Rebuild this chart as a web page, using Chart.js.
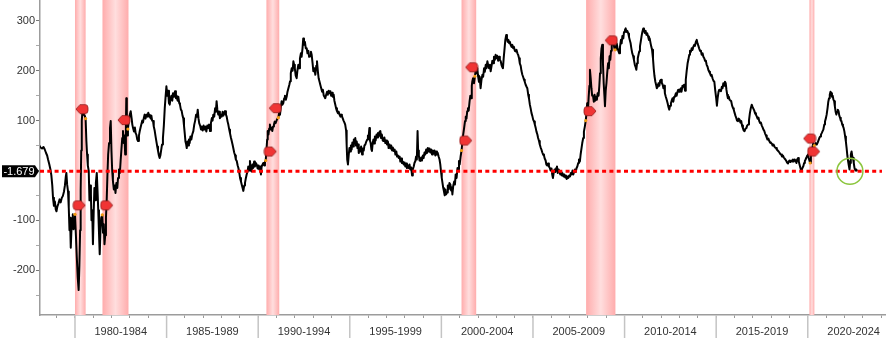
<!DOCTYPE html>
<html>
<head>
<meta charset="utf-8">
<script src="https://cdn.jsdelivr.net/npm/chart.js@4"></script>
<style>
  html, body { margin: 0; padding: 0; background: #fff; }
  canvas { display: block; }
</style>
</head>
<body>
<canvas id="chart" width="886" height="338"></canvas>
<script>
Chart.defaults.font.family = '"Liberation Sans", Arial, sans-serif';
Chart.defaults.font.size = 11;
Chart.defaults.color = '#333';

// last value, drawn as the dotted level line and the black tag
const refLevel = -1.679;
const xMin = 1978.09, xMax = 2024.27;
const yMin = -290, yMax = 342;

// recessions (decimal years)
const recessionStart = [1980.0, 1981.5, 1990.45, 2001.1, 2007.9, 2020.09];
const recessionEnd   = [1980.58, 1982.92, 1991.15, 2001.9, 2009.5, 2020.36];

// red flags and the points they mark
const markerDates  = [1980.38, 1980.23, 1981.73, 1982.67, 1990.66, 1990.93, 2001.33, 2001.65, 2008.11, 2009.27, 2020.10, 2020.32];
const markerValues = [123, -70, -70, 101, 38, 125, 60, 207, 119, 261, 64, 38];
const markerSide   = ['L', 'R', 'R', 'L', 'R', 'L', 'R', 'L', 'R', 'L', 'L', 'R'];
const anchorDates  = [1980.58, 1980.0, 1981.49, 1982.89, 1990.41, 1991.1, 2001.1, 2001.83, 2007.88, 2009.48, 2020.13, 2020.36];
const anchorValues = [104, -88, -89, 83, 20, 106, 40, 189, 100, 242, 15, 50];

const circleDate = 2022.3;

// spread, [decimal year, bp]
const spread1978 = [
  [1977.98, 48], [1978.05, 50], [1978.12, 46], [1978.2, 44], [1978.28, 47], [1978.35, 42], [1978.42, 35], [1978.48, 30],
  [1978.53, 22], [1978.6, 12], [1978.66, 2], [1978.71, -10], [1978.76, -30], [1978.8, -55], [1978.85, -71], [1978.9, -62],
  [1978.95, -78], [1978.99, -82], [1979.04, -72], [1979.1, -66], [1979.16, -58], [1979.22, -64], [1979.28, -55], [1979.34, -51],
  [1979.4, -42], [1979.45, -30], [1979.5, -12], [1979.53, -5], [1979.57, -28], [1979.62, -42], [1979.66, -75], [1979.7, -120],
  [1979.73, -95], [1979.77, -155], [1979.8, -125], [1979.84, -100], [1979.88, -88], [1979.92, -118], [1979.96, -96], [1980.0, -88],
  [1980.05, -130], [1980.1, -175], [1980.15, -215], [1980.2, -240], [1980.24, -190], [1980.28, -120], [1980.31, -40], [1980.34, 40],
  [1980.37, 100], [1980.4, 115], [1980.44, 122], [1980.48, 112], [1980.53, 110], [1980.58, 104], [1980.62, 60], [1980.66, 32],
  [1980.7, 10], [1980.75, -1], [1980.79, -60], [1980.83, -30], [1980.87, -48], [1980.9, -100], [1980.94, -80], [1980.98, -148],
  [1981.02, -85], [1981.06, -35], [1981.1, -60], [1981.14, -25], [1981.19, -5], [1981.23, -40], [1981.27, -80], [1981.31, -125],
  [1981.35, -168], [1981.39, -120], [1981.43, -95], [1981.49, -89], [1981.53, -125], [1981.57, -108], [1981.61, -148], [1981.65, -130],
  [1981.69, -95], [1981.73, -60], [1981.77, -10], [1981.81, 32], [1981.86, 55], [1981.91, 85], [1981.95, 99], [1981.99, 40],
  [1982.03, 0], [1982.07, -21], [1982.12, -38], [1982.17, -30], [1982.21, -45], [1982.26, -25], [1982.31, -35], [1982.35, -15],
  [1982.4, 2], [1982.45, -5], [1982.49, 19], [1982.54, 45], [1982.58, 65], [1982.62, 79], [1982.66, 55], [1982.7, 70],
  [1982.74, 32], [1982.78, 90], [1982.8, 145], [1982.83, 100], [1982.86, 70], [1982.89, 83], [1982.94, 100], [1982.99, 112],
  [1983.04, 119], [1983.09, 105], [1983.13, 92], [1983.17, 85], [1983.22, 78], [1983.27, 86], [1983.31, 75], [1983.35, 72],
  [1983.4, 62], [1983.44, 59], [1983.49, 70], [1983.53, 78], [1983.58, 86], [1983.62, 92], [1983.67, 100], [1983.71, 96],
  [1983.76, 106], [1983.8, 112], [1983.85, 104], [1983.9, 112], [1983.95, 108], [1984.0, 116], [1984.04, 108], [1984.08, 112],
  [1984.13, 104], [1984.17, 110], [1984.21, 100], [1984.26, 99], [1984.3, 88], [1984.35, 80], [1984.4, 68], [1984.44, 59],
  [1984.49, 48], [1984.53, 40], [1984.58, 30], [1984.62, 25], [1984.66, 30], [1984.7, 40], [1984.75, 52], [1984.8, 65],
  [1984.85, 90], [1984.9, 125], [1984.95, 150], [1984.99, 169]
];

const spread1985 = [
  [1985.04, 150], [1985.08, 160], [1985.13, 135], [1985.17, 132], [1985.22, 145], [1985.26, 150], [1985.31, 140], [1985.35, 155],
  [1985.4, 148], [1985.46, 159], [1985.51, 145], [1985.55, 150], [1985.6, 140], [1985.64, 148], [1985.69, 135], [1985.73, 132],
  [1985.78, 122], [1985.82, 120], [1985.87, 110], [1985.91, 105], [1985.95, 90], [1985.99, 75], [1986.03, 58], [1986.07, 52],
  [1986.1, 45], [1986.14, 58], [1986.18, 50], [1986.22, 62], [1986.26, 55], [1986.3, 68], [1986.35, 62], [1986.4, 72],
  [1986.46, 79], [1986.51, 92], [1986.56, 100], [1986.61, 112], [1986.66, 108], [1986.7, 122], [1986.74, 105], [1986.78, 95],
  [1986.83, 90], [1986.88, 82], [1986.92, 88], [1986.97, 80], [1987.02, 90], [1987.07, 82], [1987.12, 88], [1987.17, 78],
  [1987.22, 90], [1987.27, 85], [1987.32, 92], [1987.37, 79], [1987.42, 95], [1987.47, 105], [1987.51, 100], [1987.55, 112],
  [1987.6, 108], [1987.65, 125], [1987.69, 118], [1987.73, 139], [1987.77, 122], [1987.82, 112], [1987.87, 118], [1987.91, 105],
  [1987.96, 112], [1988.01, 108], [1988.06, 118], [1988.1, 110], [1988.15, 115], [1988.19, 119], [1988.24, 112], [1988.28, 108],
  [1988.33, 98], [1988.37, 92], [1988.42, 82], [1988.46, 75], [1988.51, 66], [1988.55, 60], [1988.6, 52], [1988.64, 45],
  [1988.69, 36], [1988.74, 30], [1988.78, 22], [1988.83, 19], [1988.88, 10], [1988.92, 5], [1988.97, -5], [1989.01, -15],
  [1989.06, -22], [1989.1, -28], [1989.15, -35], [1989.19, -41], [1989.24, -30], [1989.28, -25], [1989.33, -15], [1989.37, -8],
  [1989.42, -2], [1989.46, 8], [1989.5, 0], [1989.55, 19], [1989.59, 5], [1989.64, -2], [1989.69, 12], [1989.73, 5],
  [1989.78, 18], [1989.82, 8], [1989.87, 15], [1989.92, 12], [1989.97, 4], [1990.02, 10], [1990.06, 2], [1990.1, 8],
  [1990.15, -8], [1990.19, 8], [1990.24, 12], [1990.28, 15], [1990.33, 10], [1990.37, 18], [1990.41, 20]
];

const spread1990 = [
  [1990.45, 40], [1990.49, 62], [1990.52, 79], [1990.56, 72], [1990.6, 84], [1990.64, 92], [1990.68, 82], [1990.72, 86],
  [1990.77, 79], [1990.81, 88], [1990.86, 92], [1990.9, 98], [1990.95, 95], [1991.0, 100], [1991.05, 104], [1991.1, 106],
  [1991.14, 115], [1991.19, 112], [1991.23, 126], [1991.28, 139], [1991.32, 132], [1991.37, 135], [1991.42, 145], [1991.46, 150],
  [1991.51, 142], [1991.56, 149], [1991.6, 158], [1991.65, 165], [1991.7, 172], [1991.74, 179], [1991.78, 195], [1991.83, 205],
  [1991.88, 200], [1991.92, 219], [1991.96, 212], [1992.0, 205], [1992.05, 190], [1992.1, 185], [1992.14, 200], [1992.19, 212],
  [1992.23, 205], [1992.28, 225], [1992.33, 235], [1992.37, 228], [1992.42, 245], [1992.46, 265], [1992.5, 252], [1992.55, 258],
  [1992.6, 245], [1992.65, 245], [1992.69, 235], [1992.74, 240], [1992.78, 228], [1992.83, 229], [1992.88, 238], [1992.92, 232],
  [1992.97, 215], [1993.01, 199], [1993.06, 205], [1993.12, 192], [1993.17, 210], [1993.21, 219], [1993.26, 198], [1993.3, 185],
  [1993.35, 178], [1993.39, 172], [1993.44, 165], [1993.49, 158], [1993.53, 162], [1993.58, 150], [1993.62, 148], [1993.66, 145],
  [1993.71, 152], [1993.76, 158], [1993.8, 152], [1993.85, 160], [1993.89, 155], [1993.94, 159], [1993.98, 150], [1994.03, 156],
  [1994.07, 148], [1994.12, 152], [1994.16, 140], [1994.21, 132], [1994.25, 125], [1994.3, 119], [1994.35, 115], [1994.39, 118],
  [1994.44, 112], [1994.49, 108], [1994.53, 112], [1994.57, 109], [1994.62, 104], [1994.66, 100], [1994.71, 96], [1994.75, 92],
  [1994.8, 80], [1994.83, 50], [1994.86, 22], [1994.9, 12]
];

const spread1995 = [
  [1994.94, 30], [1994.98, 45], [1995.02, 38], [1995.06, 50], [1995.1, 42], [1995.14, 56], [1995.18, 48], [1995.22, 62],
  [1995.26, 55], [1995.3, 65], [1995.34, 50], [1995.38, 58], [1995.42, 45], [1995.46, 52], [1995.49, 35], [1995.53, 45],
  [1995.57, 38], [1995.62, 48], [1995.67, 32], [1995.71, 44], [1995.76, 40], [1995.8, 50], [1995.85, 52], [1995.9, 58],
  [1995.95, 62], [1995.99, 70], [1996.03, 68], [1996.07, 85], [1996.1, 60], [1996.14, 55], [1996.18, 42], [1996.21, 39],
  [1996.25, 55], [1996.29, 62], [1996.33, 54], [1996.37, 68], [1996.41, 60], [1996.46, 72], [1996.5, 66], [1996.54, 75],
  [1996.58, 68], [1996.63, 78], [1996.67, 79], [1996.71, 65], [1996.75, 72], [1996.8, 60], [1996.85, 59], [1996.89, 66],
  [1996.94, 55], [1996.98, 60], [1997.03, 52], [1997.08, 58], [1997.12, 45], [1997.17, 52], [1997.22, 44], [1997.26, 50],
  [1997.31, 40], [1997.35, 46], [1997.4, 39], [1997.45, 42], [1997.49, 32], [1997.54, 38], [1997.58, 28], [1997.63, 30],
  [1997.67, 25], [1997.72, 28], [1997.76, 18], [1997.81, 24], [1997.85, 15], [1997.9, 18], [1997.94, 12], [1997.99, 16],
  [1998.03, 8], [1998.08, 14], [1998.12, 5], [1998.17, 10], [1998.21, 5], [1998.26, 12], [1998.3, 2], [1998.35, 6],
  [1998.4, -10], [1998.44, 2], [1998.49, 8], [1998.53, 15], [1998.58, 19], [1998.62, 28], [1998.66, 22], [1998.7, 79],
  [1998.73, 40], [1998.77, 30], [1998.81, 20], [1998.85, 19], [1998.9, 26], [1998.94, 20], [1998.99, 30], [1999.03, 25],
  [1999.08, 36], [1999.12, 32], [1999.17, 42], [1999.21, 35], [1999.26, 45], [1999.31, 38], [1999.35, 44], [1999.4, 36],
  [1999.44, 42], [1999.49, 32], [1999.53, 40], [1999.58, 34], [1999.62, 40], [1999.67, 30], [1999.71, 38], [1999.76, 32],
  [1999.8, 35], [1999.85, 28], [1999.9, 22], [1999.94, 12], [1999.98, -2]
];

const spread2000 = [
  [2000.02, -15], [2000.06, -25], [2000.1, -35], [2000.14, -42], [2000.18, -50], [2000.22, -38], [2000.26, -48], [2000.31, -44],
  [2000.35, -30], [2000.4, -38], [2000.44, -25], [2000.49, -28], [2000.53, -40], [2000.57, -34], [2000.6, -48], [2000.65, -30],
  [2000.7, -22], [2000.74, -28], [2000.78, -8], [2000.83, -15], [2000.88, 5], [2000.92, 2], [2000.96, 19], [2001.0, 12],
  [2001.05, 28], [2001.1, 40], [2001.14, 55], [2001.19, 72], [2001.24, 85], [2001.29, 99], [2001.33, 108], [2001.37, 104],
  [2001.41, 119], [2001.45, 125], [2001.49, 120], [2001.54, 139], [2001.58, 150], [2001.62, 145], [2001.66, 170], [2001.69, 179],
  [2001.73, 185], [2001.78, 175], [2001.83, 189], [2001.87, 200], [2001.91, 195], [2001.96, 205], [2002.0, 190], [2002.05, 178],
  [2002.09, 188], [2002.14, 165], [2002.19, 182], [2002.24, 192], [2002.28, 188], [2002.33, 205], [2002.37, 198], [2002.42, 212],
  [2002.46, 205], [2002.51, 219], [2002.56, 210], [2002.6, 205], [2002.65, 212], [2002.69, 199], [2002.74, 210], [2002.78, 220],
  [2002.83, 215], [2002.87, 228], [2002.92, 222], [2002.96, 232], [2003.01, 225], [2003.05, 230], [2003.1, 220], [2003.15, 228],
  [2003.19, 222], [2003.24, 219], [2003.28, 212], [2003.32, 208], [2003.36, 205], [2003.4, 225], [2003.45, 245], [2003.49, 262],
  [2003.54, 272], [2003.58, 265], [2003.62, 258], [2003.66, 262], [2003.7, 255], [2003.74, 258], [2003.78, 252], [2003.83, 248],
  [2003.87, 252], [2003.92, 245], [2003.96, 248], [2004.01, 240], [2004.06, 239], [2004.1, 242], [2004.15, 235], [2004.19, 232],
  [2004.24, 225], [2004.28, 215], [2004.33, 210], [2004.37, 200], [2004.42, 192], [2004.46, 188], [2004.51, 182], [2004.55, 178],
  [2004.6, 172], [2004.65, 168], [2004.69, 165], [2004.74, 152], [2004.78, 145], [2004.83, 132], [2004.87, 125], [2004.92, 115],
  [2004.96, 110]
];

const spread2005 = [
  [2005.01, 102], [2005.06, 98], [2005.1, 92], [2005.15, 85], [2005.19, 78], [2005.24, 72], [2005.28, 65], [2005.33, 59],
  [2005.37, 52], [2005.42, 46], [2005.46, 42], [2005.51, 36], [2005.55, 32], [2005.6, 30], [2005.64, 24], [2005.69, 20],
  [2005.73, 12], [2005.78, 10], [2005.82, 14], [2005.87, 8], [2005.92, 5], [2005.96, 0], [2006.01, 4], [2006.05, -8],
  [2006.09, -15], [2006.13, -5], [2006.18, 2], [2006.22, -3], [2006.27, 5], [2006.31, 8], [2006.35, -5], [2006.4, 2],
  [2006.44, -2], [2006.49, -8], [2006.53, -4], [2006.58, -10], [2006.62, -6], [2006.67, -12], [2006.71, -8], [2006.76, -14],
  [2006.8, -10], [2006.84, -17], [2006.89, -12], [2006.93, -15], [2006.98, -10], [2007.02, -12], [2007.07, -5], [2007.11, -8],
  [2007.16, 0], [2007.2, -8], [2007.25, -2], [2007.29, 2], [2007.33, -3], [2007.38, 5], [2007.42, 8], [2007.47, 15],
  [2007.51, 22], [2007.56, 18], [2007.6, 32], [2007.65, 45], [2007.69, 55], [2007.74, 65], [2007.78, 78], [2007.83, 88],
  [2007.88, 100], [2007.92, 115], [2007.96, 135], [2008.0, 120], [2008.04, 148], [2008.08, 170], [2008.11, 202], [2008.15, 185],
  [2008.19, 165], [2008.23, 150], [2008.28, 149], [2008.32, 138], [2008.36, 152], [2008.4, 140], [2008.44, 148], [2008.49, 142],
  [2008.53, 155], [2008.58, 150], [2008.62, 169], [2008.66, 195], [2008.7, 225], [2008.74, 245], [2008.78, 252], [2008.82, 215],
  [2008.86, 175], [2008.9, 150], [2008.93, 129], [2008.97, 160], [2009.01, 175], [2009.05, 195], [2009.1, 215], [2009.14, 205],
  [2009.18, 229], [2009.22, 222], [2009.26, 240], [2009.3, 250], [2009.34, 258], [2009.38, 262], [2009.43, 248], [2009.48, 242],
  [2009.53, 249], [2009.57, 255], [2009.62, 245], [2009.66, 240], [2009.71, 235], [2009.75, 248], [2009.8, 262], [2009.84, 255],
  [2009.88, 270], [2009.93, 265], [2009.97, 278]
];

const spread2010 = [
  [2010.02, 282], [2010.06, 285], [2010.1, 278], [2010.15, 280], [2010.2, 275], [2010.24, 268], [2010.28, 262], [2010.33, 255],
  [2010.37, 245], [2010.42, 235], [2010.47, 229], [2010.51, 222], [2010.56, 212], [2010.6, 208], [2010.64, 202], [2010.68, 215],
  [2010.72, 225], [2010.76, 232], [2010.8, 239], [2010.84, 249], [2010.88, 258], [2010.93, 270], [2010.97, 278], [2011.02, 285],
  [2011.06, 282], [2011.1, 276], [2011.15, 280], [2011.19, 272], [2011.24, 275], [2011.28, 269], [2011.33, 262], [2011.37, 265],
  [2011.42, 255], [2011.46, 248], [2011.5, 242], [2011.55, 225], [2011.59, 205], [2011.63, 190], [2011.68, 178], [2011.72, 172],
  [2011.76, 165], [2011.81, 168], [2011.85, 175], [2011.9, 170], [2011.94, 180], [2011.99, 182], [2012.03, 176], [2012.08, 172],
  [2012.12, 165], [2012.17, 170], [2012.2, 155], [2012.25, 148], [2012.3, 142], [2012.35, 135], [2012.39, 128], [2012.44, 122],
  [2012.48, 130], [2012.53, 135], [2012.57, 140], [2012.62, 145], [2012.66, 138], [2012.71, 148], [2012.75, 149], [2012.8, 155],
  [2012.84, 150], [2012.89, 158], [2012.93, 162], [2012.98, 158], [2013.02, 162], [2013.07, 165], [2013.11, 158], [2013.16, 170],
  [2013.2, 168], [2013.25, 172], [2013.3, 160], [2013.34, 182], [2013.39, 200], [2013.44, 215], [2013.48, 222], [2013.53, 232],
  [2013.57, 240], [2013.62, 238], [2013.66, 245], [2013.71, 242], [2013.75, 248], [2013.8, 252], [2013.84, 250], [2013.89, 258],
  [2013.94, 262], [2013.98, 255], [2014.03, 250], [2014.07, 245], [2014.12, 240], [2014.17, 239], [2014.21, 232], [2014.26, 235],
  [2014.3, 228], [2014.35, 225], [2014.39, 220], [2014.44, 219], [2014.48, 212], [2014.53, 208], [2014.57, 202], [2014.62, 198],
  [2014.66, 195], [2014.71, 190], [2014.75, 192], [2014.8, 185], [2014.85, 180], [2014.9, 178], [2014.95, 160], [2015.0, 145],
  [2015.04, 130]
];

const spread2015 = [
  [2015.08, 145], [2015.13, 158], [2015.17, 162], [2015.22, 160], [2015.26, 159], [2015.31, 168], [2015.35, 165], [2015.39, 175],
  [2015.44, 170], [2015.48, 178], [2015.52, 175], [2015.56, 162], [2015.6, 152], [2015.64, 145], [2015.69, 148], [2015.73, 142],
  [2015.78, 140], [2015.82, 139], [2015.87, 130], [2015.92, 125], [2015.96, 122], [2016.01, 115], [2016.05, 110], [2016.1, 105],
  [2016.14, 100], [2016.19, 99], [2016.23, 104], [2016.28, 102], [2016.32, 96], [2016.37, 99], [2016.41, 90], [2016.46, 85],
  [2016.5, 80], [2016.55, 79], [2016.6, 84], [2016.65, 85], [2016.69, 90], [2016.74, 92], [2016.79, 100], [2016.84, 115],
  [2016.89, 125], [2016.94, 132], [2016.98, 128], [2017.03, 124], [2017.08, 120], [2017.12, 115], [2017.17, 112], [2017.22, 108],
  [2017.26, 104], [2017.31, 106], [2017.35, 99], [2017.4, 95], [2017.44, 96], [2017.49, 90], [2017.54, 86], [2017.58, 82],
  [2017.62, 80], [2017.67, 74], [2017.72, 70], [2017.76, 66], [2017.8, 62], [2017.85, 64], [2017.9, 59], [2017.94, 56],
  [2017.99, 55], [2018.04, 54], [2018.08, 50], [2018.13, 52], [2018.18, 48], [2018.22, 46], [2018.27, 45], [2018.31, 42],
  [2018.36, 40], [2018.41, 38], [2018.45, 36], [2018.5, 33], [2018.55, 32], [2018.59, 28], [2018.64, 30], [2018.69, 26],
  [2018.73, 24], [2018.78, 22], [2018.83, 19], [2018.87, 16], [2018.92, 14], [2018.96, 18], [2019.01, 20], [2019.05, 17],
  [2019.1, 20], [2019.15, 18], [2019.19, 22], [2019.24, 18], [2019.28, 22], [2019.33, 20], [2019.38, 15], [2019.42, 22],
  [2019.47, 25], [2019.51, 18], [2019.55, 12], [2019.6, 5], [2019.64, 0], [2019.68, 2], [2019.72, 6], [2019.76, 9],
  [2019.8, 15], [2019.84, 19], [2019.88, 22], [2019.93, 26], [2019.97, 30], [2020.01, 32], [2020.05, 25], [2020.09, 20],
  [2020.13, 15], [2020.17, 28], [2020.21, 38], [2020.25, 45], [2020.3, 55], [2020.35, 50], [2020.4, 52], [2020.44, 55],
  [2020.49, 52], [2020.54, 56], [2020.58, 60], [2020.63, 65], [2020.67, 68], [2020.72, 72], [2020.76, 75], [2020.81, 79],
  [2020.85, 82], [2020.9, 92], [2020.94, 98], [2020.99, 105], [2021.03, 112], [2021.08, 125], [2021.12, 138], [2021.16, 145],
  [2021.2, 152], [2021.24, 158], [2021.28, 155], [2021.32, 148], [2021.36, 150], [2021.4, 142], [2021.44, 139], [2021.48, 128],
  [2021.52, 118], [2021.56, 112], [2021.6, 118], [2021.64, 122], [2021.68, 119], [2021.72, 110], [2021.76, 106], [2021.8, 100],
  [2021.84, 99], [2021.88, 92], [2021.92, 89], [2021.96, 85], [2022.0, 78], [2022.04, 68], [2022.08, 58], [2022.12, 45],
  [2022.16, 30], [2022.2, 19], [2022.24, 10], [2022.28, 2], [2022.31, 15], [2022.35, 32], [2022.39, 38], [2022.43, 28],
  [2022.47, 25], [2022.51, 15], [2022.55, 5], [2022.6, 0], [2022.65, 2], [2022.69, refLevel]
];

const series = [spread1978, spread1985, spread1990, spread1995, spread2000, spread2005, spread2010, spread2015]
  .flat()
  .map(([x, y]) => ({x, y}));

// flag shapes used as point styles
function makeFlag(pointLeft) {
  const c = document.createElement('canvas');
  c.width = 14;
  c.height = 12;
  const g = c.getContext('2d');
  if (!pointLeft) {
    g.translate(14, 0);
    g.scale(-1, 1);
  }
  g.beginPath();
  g.moveTo(1, 6);
  g.lineTo(5, 1.5);
  g.lineTo(10, 1.5);
  g.arcTo(13, 1.5, 13, 6, 3);
  g.arcTo(13, 10.5, 10, 10.5, 3);
  g.lineTo(5, 10.5);
  g.closePath();
  g.fillStyle = '#f03434';
  g.fill();
  g.lineWidth = 0.8;
  g.strokeStyle = '#8e1a1a';
  g.stroke();
  return c;
}
const flagLeft = makeFlag(true);
const flagRight = makeFlag(false);

const decor = {
  id: 'decor',
  beforeDatasetsDraw(chart) {
    const {ctx, chartArea: a, scales: {x}} = chart;
    ctx.save();
    recessionStart.forEach((s, i) => {
      const l = x.getPixelForValue(s);
      const r = x.getPixelForValue(recessionEnd[i]);
      const grad = ctx.createLinearGradient(l, 0, r, 0);
      grad.addColorStop(0, '#ffacac');
      grad.addColorStop(0.5, '#ffdede');
      grad.addColorStop(1, '#ffacac');
      ctx.fillStyle = grad;
      ctx.fillRect(l, a.top, r - l, a.bottom - a.top);
    });
    ctx.restore();
  },
  afterDraw(chart) {
    const {ctx, chartArea: a, scales: {x, y}} = chart;
    ctx.save();
    // five-year dividers below the axis
    ctx.strokeStyle = '#c4c4c4';
    ctx.lineWidth = 1.5;
    for (let yr = 1980; yr <= 2020; yr += 5) {
      const px = x.getPixelForValue(yr);
      ctx.beginPath();
      ctx.moveTo(px, a.bottom);
      ctx.lineTo(px, chart.height);
      ctx.stroke();
    }
    // last value tag
    const ty = y.getPixelForValue(refLevel);
    ctx.fillStyle = '#000';
    ctx.beginPath();
    ctx.moveTo(2, ty - 6);
    ctx.lineTo(35, ty - 6);
    ctx.lineTo(39, ty);
    ctx.lineTo(35, ty + 6);
    ctx.lineTo(2, ty + 6);
    ctx.closePath();
    ctx.fill();
    ctx.fillStyle = '#fff';
    ctx.font = '11px "Liberation Sans", Arial, sans-serif';
    ctx.textAlign = 'center';
    ctx.textBaseline = 'middle';
    ctx.fillText(refLevel.toFixed(3), 19, ty + 0.5);
    // ring round the latest reading
    ctx.strokeStyle = '#8cc63e';
    ctx.lineWidth = 1.5;
    ctx.beginPath();
    ctx.arc(x.getPixelForValue(circleDate), y.getPixelForValue(refLevel), 13, 0, Math.PI * 2);
    ctx.stroke();
    ctx.restore();
  }
};

const halfStep = v => Math.round(v * 2) / 2;

new Chart(document.getElementById('chart'), {
  type: 'line',
  data: {
    datasets: [
      {
        label: 'flags',
        data: markerDates.map((d, i) => ({x: d, y: markerValues[i]})),
        pointStyle: markerSide.map(s => s === 'L' ? flagLeft : flagRight),
        pointRadius: 6,
        showLine: false,
        order: 0
      },
      {
        label: 'anchors',
        data: anchorDates.map((d, i) => ({x: d, y: anchorValues[i]})),
        pointRadius: 1.6,
        pointBorderWidth: 0,
        pointBackgroundColor: '#f39c12',
        showLine: false,
        order: 1
      },
      {
        label: 'level',
        data: [{x: xMin, y: refLevel}, {x: 2024.05, y: refLevel}],
        borderColor: '#ff0000',
        borderWidth: 3,
        borderDash: [4, 3.3],
        pointRadius: 0,
        order: 2
      },
      {
        label: 'spread',
        data: series,
        borderColor: '#000',
        borderWidth: 2,
        borderJoinStyle: 'round',
        pointRadius: 0,
        order: 3
      }
    ]
  },
  options: {
    responsive: false,
    animation: false,
    devicePixelRatio: 1,
    layout: { padding: 0, autoPadding: false },
    plugins: {
      legend: { display: false },
      tooltip: { enabled: false }
    },
    scales: {
      x: {
        type: 'linear',
        min: xMin,
        max: xMax,
        border: { color: '#9c9c9c', width: 1.5 },
        grid: {
          drawOnChartArea: false,
          drawTicks: true,
          tickLength: 3,
          tickColor: c => Number.isInteger(halfStep(c.tick.value)) ? '#999' : 'rgba(0,0,0,0)'
        },
        ticks: {
          stepSize: 0.5,
          includeBounds: false,
          autoSkip: false,
          maxRotation: 0,
          padding: 7,
          color: '#333',
          callback: v => {
            const r = halfStep(v);
            if (Math.abs((r % 5) - 2.5) < 0.01) return (r - 2.5) + '-' + (r + 1.5);
            return Number.isInteger(r) ? '' : null;
          }
        },
        afterFit: s => { s.height = 23; s.paddingLeft = 0; s.paddingRight = 0; }
      },
      y: {
        min: yMin,
        max: yMax,
        border: { color: '#9c9c9c', width: 1.5 },
        grid: {
          drawOnChartArea: false,
          drawTicks: true,
          tickLength: 4,
          tickColor: c => c.tick.value % 100 === 0 ? '#777' : '#aaa'
        },
        ticks: {
          stepSize: 50,
          includeBounds: false,
          autoSkip: false,
          padding: 1,
          color: '#333',
          callback: v => (v % 100 === 0 && v !== 0) ? String(v) : ''
        },
        afterFit: s => { s.width = 40; s.paddingTop = 0; s.paddingBottom = 0; }
      }
    }
  },
  plugins: [decor]
});
</script>
</body>
</html>
